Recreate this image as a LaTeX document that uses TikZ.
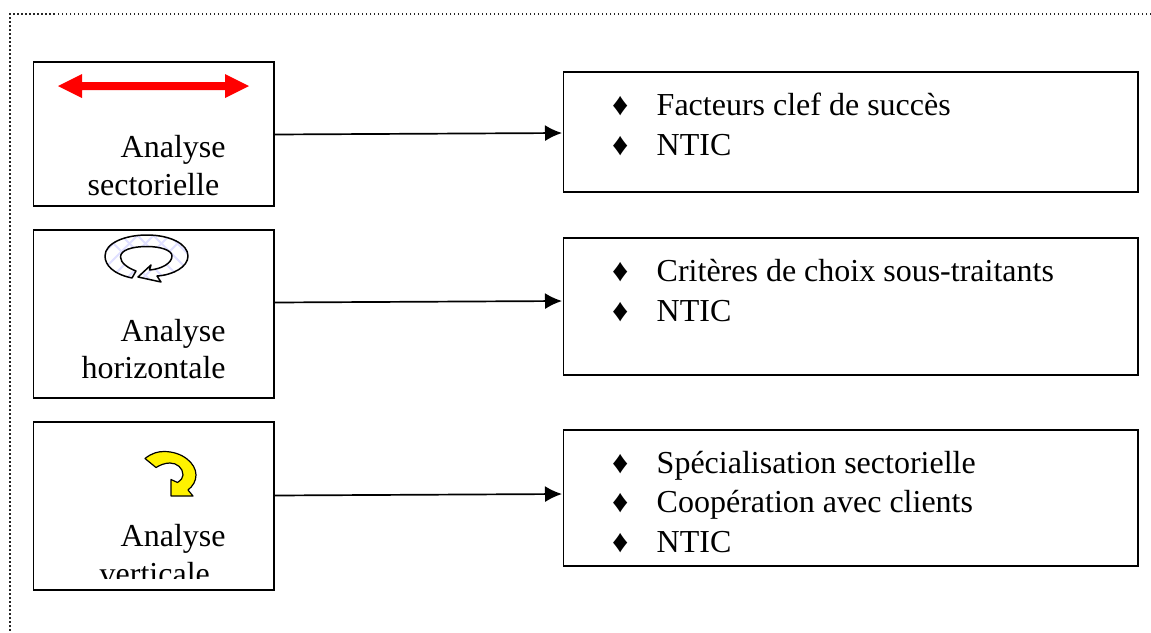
\documentclass[tikz,border=0pt]{standalone}
\usepackage{fontspec}
\setmainfont{Liberation Serif}
\usetikzlibrary{arrows.meta}
\tikzset{
  box/.style={draw=black,line width=1.7pt,inner sep=0pt,outer sep=0pt,anchor=north west},
  lbl/.style={anchor=base west,inner sep=0pt,font=\fontsize{32}{32}\selectfont},
  conn/.style={draw=black,line width=1.7pt,-{Latex[length=17pt,width=16pt]}},
  frame/.style={draw=black!85,line width=1.5pt,dash pattern=on 1.5pt off 2.5pt},
  icon/.style={draw=black,line width=1.5pt,line join=round}
}
\newcommand{\ringpath}{(132,278) .. controls (113,274) and (105,265) .. (105,256)
  .. controls (105,243) and (125,235) .. (147,235)
  .. controls (170,235) and (188,244) .. (188,256)
  .. controls (188,267) and (173,275) .. (157,276)
  -- (161,282) -- (138,277) -- (151,265)
  -- (149.5,270)
  .. controls (162,269) and (172,263) .. (172,256)
  .. controls (172,250) and (160,246.5) .. (147,246.5)
  .. controls (132,246.5) and (120.5,250) .. (120.5,257)
  .. controls (120.5,263) and (128,268) .. (136,271) -- cycle}
\begin{document}
\begin{tikzpicture}[x=1pt,y=-1pt]
\useasboundingbox (0,0) rectangle (1151,632);
\coordinate (ftl) at (10,14);
\coordinate (ftr) at (1151,14);
\coordinate (fbl) at (10,632);
\draw[frame] (ftr) -- (ftl) -- (fbl);
% left boxes
\node[box,minimum width=240.5pt,minimum height=144pt] (L1) at (33.5,62) {};
\node[box,minimum width=240.5pt,minimum height=168pt] (L2) at (33.5,230) {};
\node[box,minimum width=240.5pt,minimum height=168pt] (L3) at (33.5,422) {};
% right boxes
\node[box,minimum width=574.5pt,minimum height=120pt] (R1) at (563.5,72) {};
\node[box,minimum width=574.5pt,minimum height=137pt] (R2) at (563.5,238) {};
\node[box,minimum width=574.5pt,minimum height=136pt] (R3) at (563.5,430) {};
% connectors
\draw[conn] ([yshift=-0.5pt]L1.east) -- ([yshift=-1pt,xshift=-1.5pt]R1.west);
\draw[conn] ([yshift=11.5pt]L2.east) -- ([yshift=5.5pt,xshift=-1.5pt]R2.west);
\draw[conn] ([yshift=10.5pt]L3.east) -- ([yshift=4pt,xshift=-1.5pt]R3.west);
% left labels
\node[lbl] (a1) at (120.5,157) {Analyse};
\node[lbl] (a2) at (87.5,195) {sectorielle};
\node[lbl] (b1) at (120.5,341) {Analyse};
\node[lbl] (b2) at (81.5,378) {horizontale};
\node[lbl] (c1) at (120.5,546) {Analyse};
\begin{scope}
\clip (60,550) rectangle (260,578.5);
\node[lbl] (c2) at (99.5,584) {verticale};
\end{scope}
% right labels
\foreach \n/\y in {d1/115,d2/155,d3/281,d4/321,d5/473,d6/512,d7/552}
  \node[lbl] (\n) at (612,\y) {♦};
\node[lbl] (t1) at (656.5,115) {Facteurs clef de succès};
\node[lbl] (t2) at (656.5,155) {NTIC};
\node[lbl] (t3) at (656.5,281) {Critères de choix sous-traitants};
\node[lbl] (t4) at (656.5,321) {NTIC};
\node[lbl] (t5) at (656.5,473) {Spécialisation sectorielle};
\node[lbl] (t6) at (656.5,512) {Coopération avec clients};
\node[lbl] (t7) at (656.5,552) {NTIC};
% red double arrow
\fill[red] (58,86) -- (82,74) -- (82,82) -- (225,82) -- (225,74) -- (249,86) -- (225,98) -- (225,90) -- (82,90) -- (82,98) -- cycle;
% ring arrow
\fill[white] \ringpath;
\begin{scope}
\clip \ringpath;
\foreach \k in {0,16,...,96} {
  \draw[blue!12,line width=1.8pt] (95+\k,225) -- +(60,60);
  \draw[blue!12,line width=1.8pt] (100+\k,225) -- +(-60,60);
}
\end{scope}
\draw[icon] \ringpath;
% yellow arrow
\filldraw[icon,fill=yellow,line width=1.2pt]
  (145,458.5) .. controls (152,453) and (158,451.5) .. (164,451.5)
  .. controls (182,451.5) and (196,463) .. (196,475)
  .. controls (196,481) and (193,486) .. (188,490)
  -- (193,496) -- (171,496) -- (171,479.5) -- (177.5,482.5)
  .. controls (181,480) and (183,478) .. (183,475)
  .. controls (183,468) and (177,463) .. (170,463)
  .. controls (165,463) and (160,465) .. (156,467.5) -- cycle;
\end{tikzpicture}
\end{document}
